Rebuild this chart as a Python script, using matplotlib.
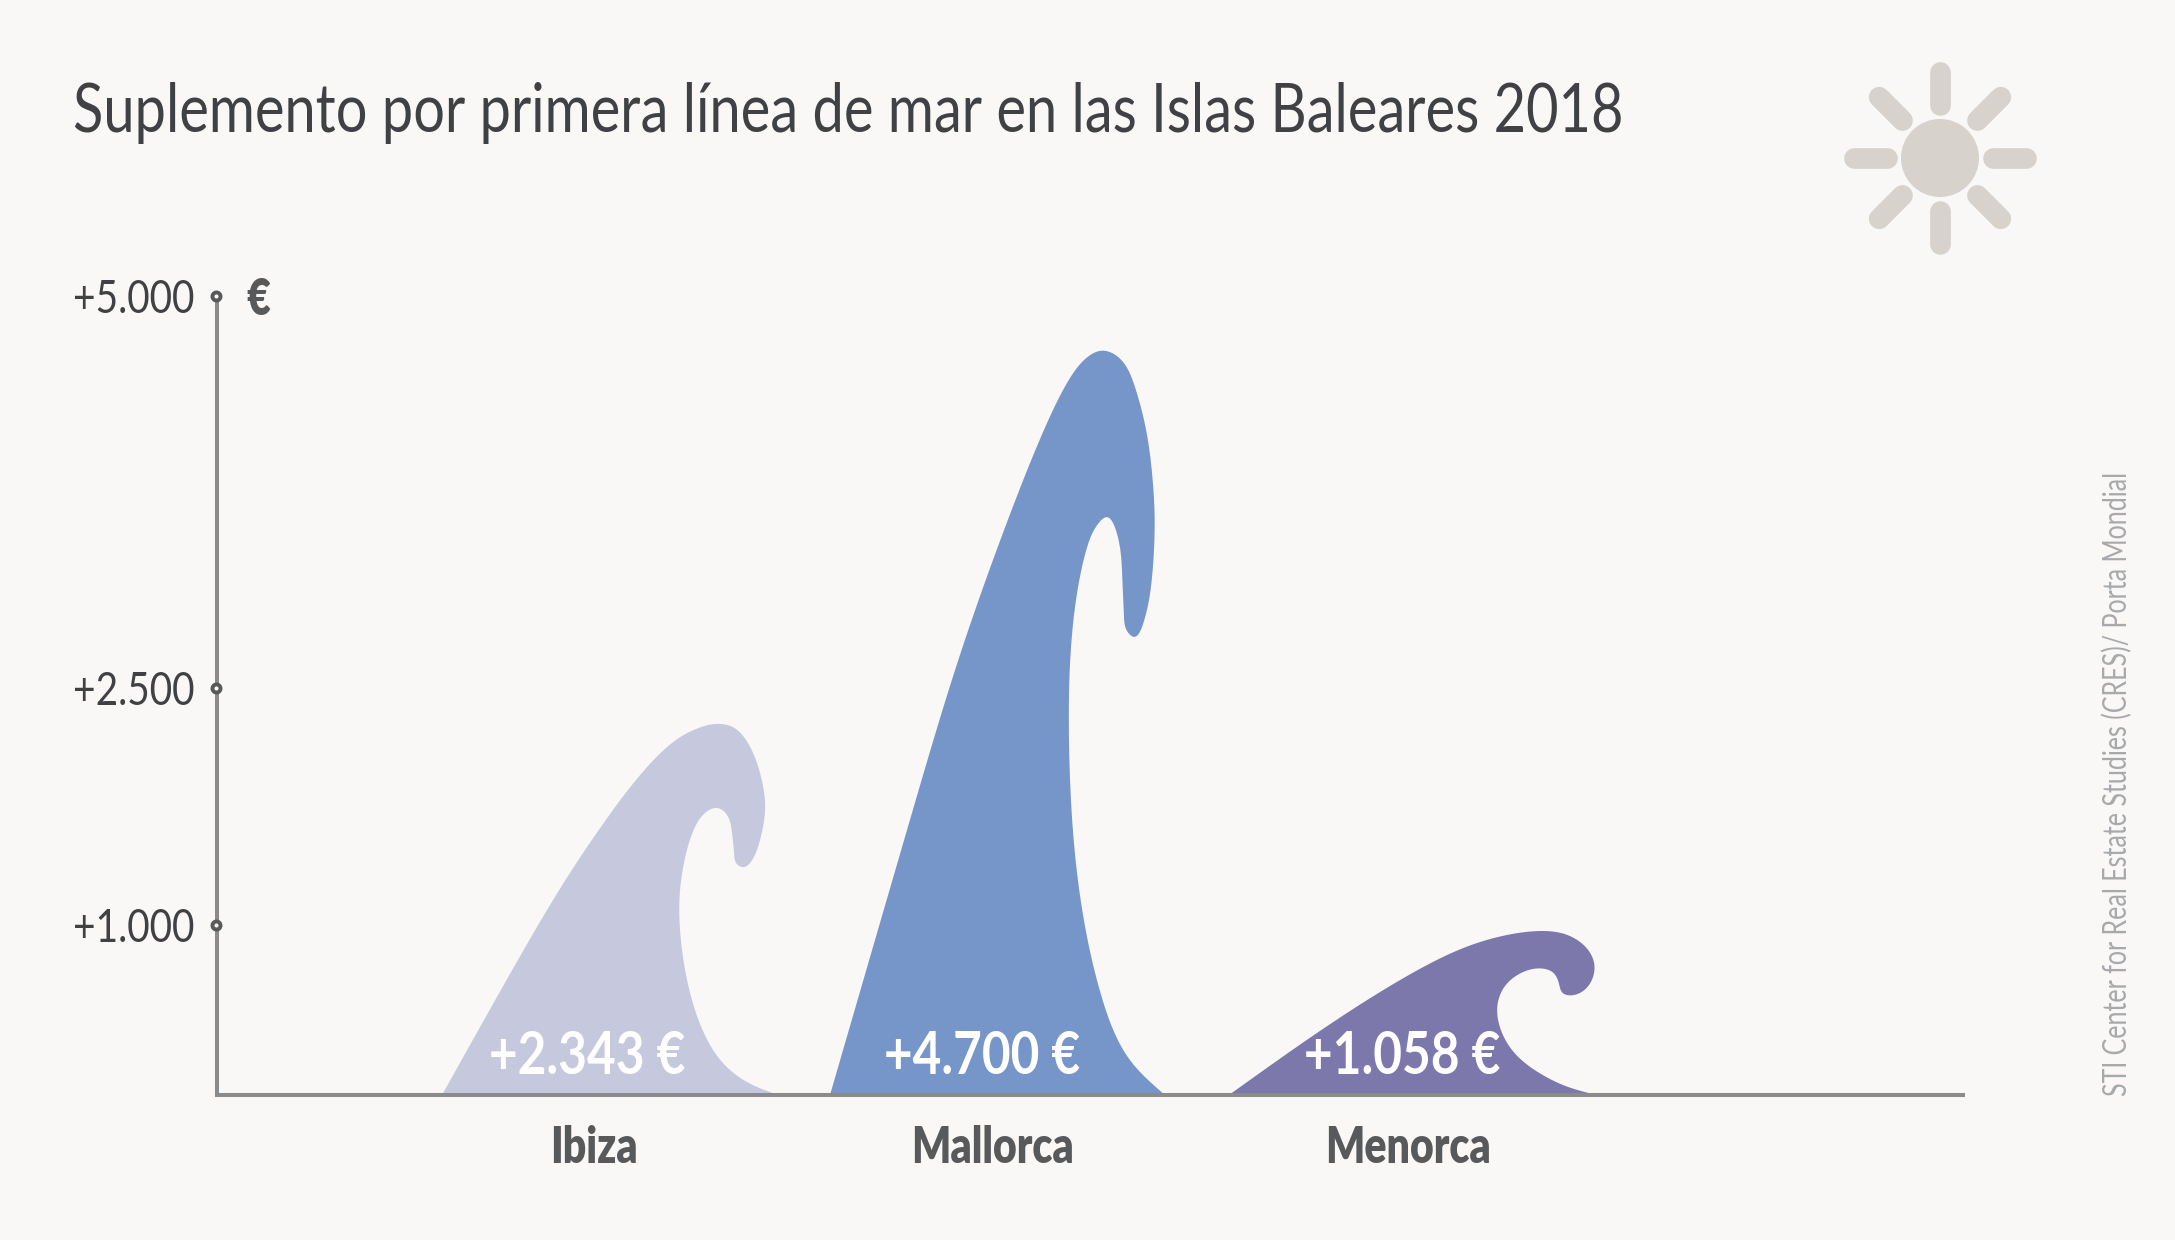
import numpy as np
import matplotlib
matplotlib.use("Agg")
import matplotlib.pyplot as plt
from matplotlib import font_manager as fm
from matplotlib.font_manager import FontProperties
from matplotlib.path import Path
from matplotlib.patches import PathPatch, Circle
from matplotlib.lines import Line2D
from matplotlib.transforms import Affine2D
from fontTools.ttLib import TTFont

# ---- data ----
islands = ["Ibiza", "Mallorca", "Menorca"]
supplement = [2343, 4700, 1058]
value_labels = ["+2.343 €", "+4.700 €", "+1.058 €"]
tick_labels = ["+1.000", "+2.500", "+5.000"]
tick_values = [1064, 2547, 5000]   # where the reference draws its three ticks
colors = ["#c6c9dd", "#7696ca", "#7d78ac"]

title = "Suplemento por primera línea de mar en las Islas Baleares 2018"
source = "STI Center for Real Estate Studies (CRES)/ Porta Mondial"

# wave silhouettes, each in its own free units (x across, y downward)
shape_ibiza = [(127,1244),(300,935),(490,610),(610,430),(720,285),(830,178),(890,146),
    (945,132),(1000,143),(1040,185),(1070,250),(1088,320),(1094,385),(1080,475),(1055,540),
    (1030,561),(1008,550),(1001,520),(995,460),(980,405),(950,384),
    (915,398),(880,450),(852,545),(838,650),(842,780),(865,920),(905,1045),
    (965,1145),(1045,1208),(1134,1244)]
shape_mallorca = [(90,1412),(335,900),(480,610),(620,370),(725,210),(804,112),(855,72),
    (905,57),(960,72),(1005,125),(1040,210),(1058,300),(1063,370),(1055,470),(1033,545),
    (1002,578),(980,567),(971,540),(966,470),(950,390),(920,360),
    (890,375),(862,412),(830,500),(810,620),(806,750),(818,930),(850,1090),
    (905,1235),(985,1345),(1094,1412)]
shape_menorca = [(86,584),(400,365),(700,185),(860,120),
    (1030,93),(1110,108),(1165,150),(1184,200),(1165,258),(1120,285),(1088,278),
    (1077,250),(1060,218),(1020,205),(965,218),(915,258),(892,320),(905,395),
    (950,465),(1030,525),(1105,560),(1190,584)]
shapes = [shape_ibiza, shape_mallorca, shape_menorca]

# ---- layout ----
W, H = 2175, 1240
BG = "#f9f8f6"
AXIS = "#8a8b8c"
DARK = "#404144"
MID = "#58595b"


def condensed(weight, factor, tag):
    """Narrow copy of an installed family (no condensed face is installed)."""
    src = fm.findfont(FontProperties(family="Lato", weight=weight))
    try:
        f = TTFont(src)
        glyf, hmtx = f["glyf"], f["hmtx"]
        for name in f.getGlyphOrder():
            g = glyf[name]
            adv, lsb = hmtx.metrics[name]
            hmtx.metrics[name] = (int(round(adv * factor)), int(round(lsb * factor)))
            if g.isComposite():
                for c in g.components:
                    c.x = int(round(c.x * factor))
            elif g.numberOfContours > 0:
                g.coordinates.scale((factor, 1))
                g.coordinates.toInt()
            if hasattr(g, "program"):
                g.removeHinting()
        for name in f.getGlyphOrder():
            g = glyf[name]
            if g.numberOfContours != 0:
                g.recalcBounds(glyf)
        for t in ["kern", "GPOS", "GSUB", "GDEF", "hdmx", "VDMX", "LTSH", "fpgm", "prep", "cvt ",
                  "fvar", "gvar", "avar", "HVAR", "MVAR", "STAT", "DSIG"]:
            if t in f:
                del f[t]
        out = f"narrow_{tag}.ttf"
        f.save(out)
        return out
    except Exception as e:
        print("font fallback", e)
        return src


F_TITLE = condensed("regular", 0.84, "title")
F_TICK = condensed("regular", 0.82, "tick")
F_SRC = condensed("regular", 0.75, "src")
F_VALUE = condensed("bold", 0.83, "value")
F_CAT = condensed("heavy", 0.80, "cat")


def fp(path, size):
    return FontProperties(fname=path, size=size)


wave_left = [225, 613, 1012]
wave_width = [336.5, 335, 367.5]
crest_ratio = [0.991, 0.991, 0.97]
label_x = [377, 776, 1191]
value_x = [370, 765, 1185]

fig = plt.figure(figsize=(W / 100, H / 100), dpi=100, facecolor=BG)
ax = fig.add_axes([217 / W, 1 - 1095 / H, (1963 - 217) / W, (1095 - 296) / H], facecolor="none")
ax.set_xlim(0, 1746)
ax.set_ylim(0, 5000)


def natural_spline(t, v, tt):
    n = len(t)
    h = np.diff(t)
    A = np.zeros((n, n))
    r = np.zeros(n)
    A[0, 0] = A[-1, -1] = 1
    for i in range(1, n - 1):
        A[i, i - 1], A[i, i], A[i, i + 1] = h[i - 1], 2 * (h[i - 1] + h[i]), h[i]
        r[i] = 6 * ((v[i + 1] - v[i]) / h[i] - (v[i] - v[i - 1]) / h[i - 1])
    c = np.linalg.solve(A, r)
    k = np.clip(np.searchsorted(t, tt) - 1, 0, n - 2)
    a = (t[k + 1] - tt) / h[k]
    b = (tt - t[k]) / h[k]
    return a * v[k] + b * v[k + 1] + ((a ** 3 - a) * c[k] + (b ** 3 - b) * c[k + 1]) * h[k] ** 2 / 6


def wave_path(shape, left, width, height):
    p = np.array(shape, dtype=float)
    x0, x1 = p[0, 0], p[-1, 0]
    base, crest = p[0, 1], p[:, 1].min()
    x = left + (p[:, 0] - x0) / (x1 - x0) * width
    y = (base - p[:, 1]) / (base - crest) * height
    # smooth curve through the outline, parameterised as it appears on the axes
    sy = y * (1095 - 296) / 5000
    t = np.r_[0, np.cumsum(np.hypot(np.diff(x), np.diff(sy)) ** 0.75)]
    tt = np.linspace(0, t[-1], 900)
    xs, ys = natural_spline(t, x, tt), natural_spline(t, y, tt)
    return Path(np.column_stack([xs, np.maximum(ys, 0)]), closed=False)


for i, name in enumerate(islands):
    ax.add_patch(PathPatch(wave_path(shapes[i], wave_left[i], wave_width[i], supplement[i] * crest_ratio[i]),
                           facecolor=colors[i], edgecolor="none", zorder=2))
    ax.annotate(value_labels[i], xy=(value_x[i], 0), xytext=(0, 15), textcoords="offset points",
                ha="center", va="baseline", color="white", fontproperties=fp(F_VALUE, 43), zorder=4)

for s in ["top", "right"]:
    ax.spines[s].set_visible(False)
for s in ["left", "bottom"]:
    ax.spines[s].set_color(AXIS)
    ax.spines[s].set_linewidth(2.9)
    ax.spines[s].set_zorder(3)

ax.set_yticks(tick_values, tick_labels)
ax.tick_params(axis="y", length=0, pad=16, labelcolor=DARK)
for t in ax.get_yticklabels():
    t.set_fontproperties(fp(F_TICK, 34))
ax.set_xticks(label_x, islands)
ax.tick_params(axis="x", length=0, pad=49, labelcolor=MID)
for t in ax.get_xticklabels():
    t.set_fontproperties(fp(F_CAT, 37))
    t.set_va("baseline")

ax.plot([-0.8] * len(tick_values), tick_values, "o", ms=5.8, mfc=BG, mec=MID, mew=2.8, clip_on=False, zorder=5)
ax.annotate("€", xy=(0, 5000), xytext=(21, 0), textcoords="offset points", ha="left", va="center_baseline",
            color=MID, fontproperties=fp(F_CAT, 37), annotation_clip=False)

fig.text(73 / W, 1 - 132 / H, title, fontproperties=fp(F_TITLE, 48), color=DARK, ha="left", va="baseline")
fig.text(2118 / W, 1 - 1096 / H, source, fontproperties=fp(F_SRC, 24), color="#a7a9ac", rotation=90,
         ha="center", va="bottom")

# sun icon, placed in pixels from the top-left corner
sun = "#d8d2cd"
cx, cy = 1940, 158
px = Affine2D().scale(1, -1).translate(0, H)
fig.add_artist(Circle((cx, cy), radius=39, transform=px, facecolor=sun, edgecolor="none"))
for a in np.arange(0, 360, 45):
    dx, dy = np.cos(np.radians(a)), np.sin(np.radians(a))
    fig.add_artist(Line2D([cx + 53 * dx, cx + 86 * dx], [cy + 53 * dy, cy + 86 * dy],
                          transform=px, color=sun, lw=14.9, solid_capstyle="round"))

fig.savefig("out.png", dpi=100, facecolor=BG)
